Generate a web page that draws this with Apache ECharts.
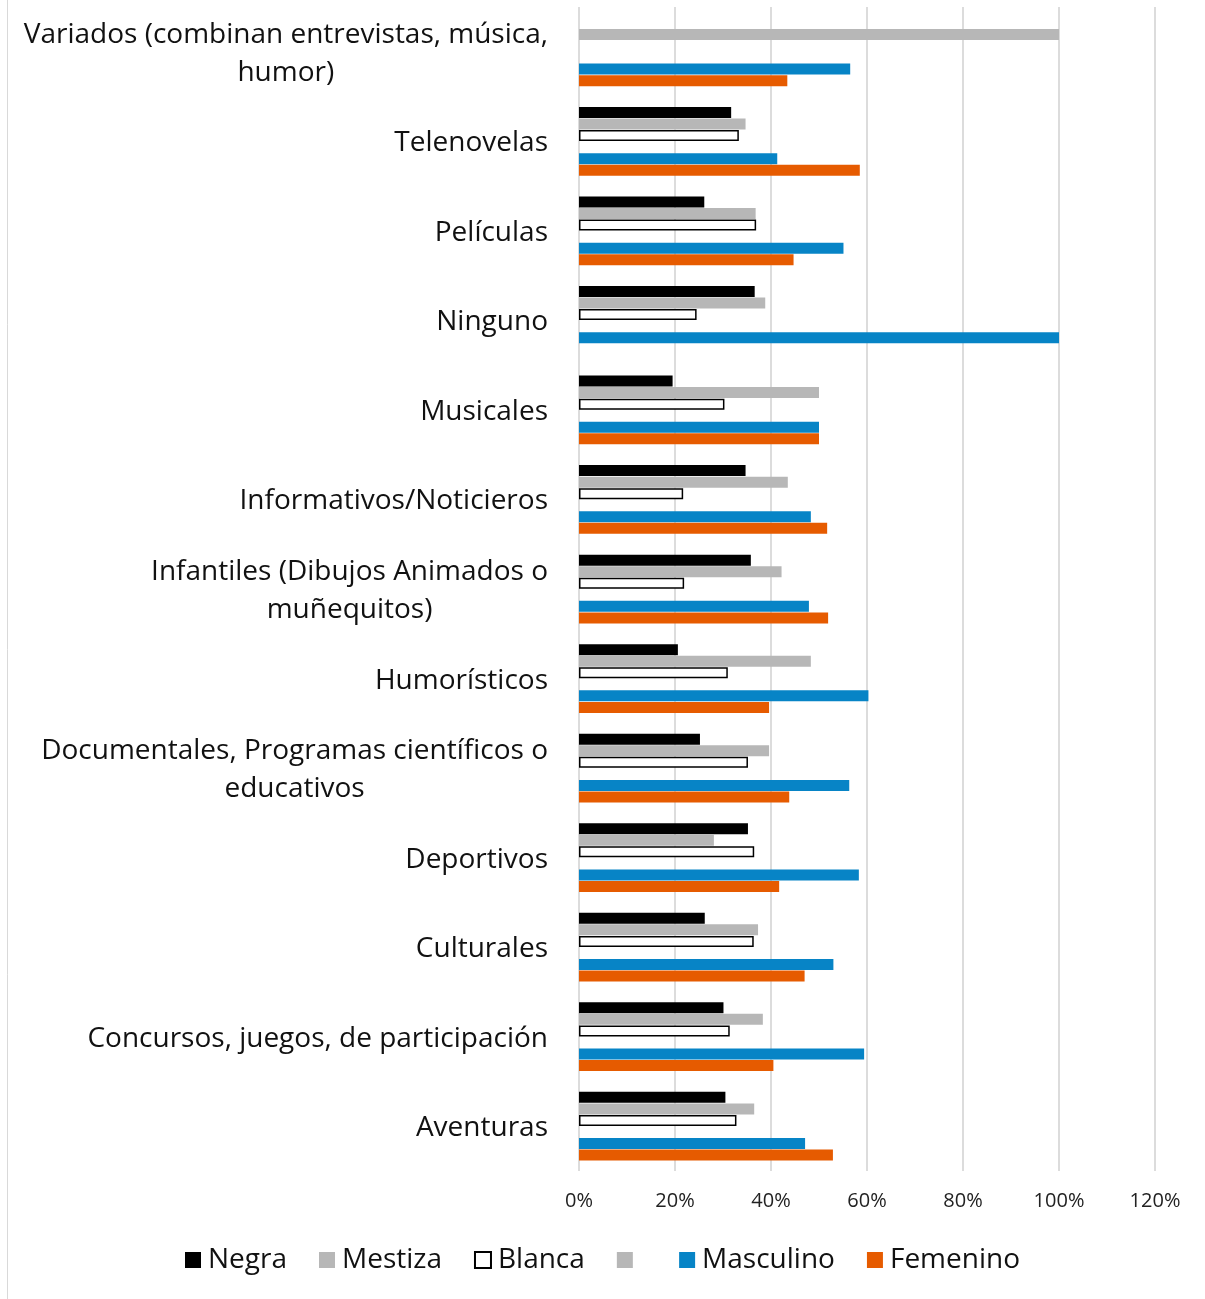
<!DOCTYPE html>
<html>
<head>
<meta charset="utf-8">
<script src="https://cdn.jsdelivr.net/npm/echarts@6/dist/echarts.min.js"></script>
<style>
  html, body { margin: 0; padding: 0; background: #fff; }
  #container { width: 1205px; height: 1299px; }
</style>
</head>
<body>
<div id="container"></div>
<script>
// categories, bottom to top (as the axis draws them)
var categories = [
  'Aventuras',
  'Concursos, juegos, de participación',
  'Culturales',
  'Deportivos',
  'Documentales, Programas científicos o\neducativos',
  'Humorísticos',
  'Infantiles (Dibujos Animados o\nmuñequitos)',
  'Informativos/Noticieros',
  'Musicales',
  'Ninguno',
  'Películas',
  'Telenovelas',
  'Variados (combinan entrevistas, música,\nhumor)'
];
// percent values, same order as categories
var negra     = [30.5, 30.1, 26.2, 35.2, 25.2, 20.6, 35.8, 34.7, 19.5, 36.6, 26.1, 31.7, null];
var mestiza   = [36.5, 38.3, 37.3, 28.1, 39.6, 48.3, 42.2, 43.5, 50.0, 38.8, 36.8, 34.7, 100];
var blanca    = [32.8, 31.4, 36.4, 36.5, 35.2, 31.0, 21.9, 21.7, 30.3, 24.5, 36.9, 33.3, null];
var sinNombre = [null, null, null, null, null, null, null, null, null, null, null, null, null];
var masculino = [47.1, 59.4, 53.0, 58.3, 56.3, 60.3, 47.9, 48.3, 50.0, 100, 55.1, 41.3, 56.5];
var femenino  = [52.9, 40.5, 47.0, 41.7, 43.8, 39.6, 51.9, 51.7, 50.0, null, 44.7, 58.5, 43.4];
var xTicks = [0, 20, 40, 60, 80, 100, 120];

var font = 'Open Sans';
var element = document.getElementById('container');
var myChart = echarts.init(element);

function bar(name, values, color, extra) {
  var s = {
    name: name,
    type: 'bar',
    data: values,
    barWidth: 11,
    barGap: '5%',
    itemStyle: { color: color },
    emphasis: { disabled: true },
    animation: false
  };
  if (extra) s.itemStyle = Object.assign(s.itemStyle, extra);
  return s;
}

var option = {
  backgroundColor: '#fff',
  animation: false,
  grid: { left: 579, right: 50, top: 7, bottom: 128, containLabel: false, outerBoundsMode: 'none' },
  xAxis: {
    type: 'value',
    min: xTicks[0],
    max: xTicks[xTicks.length - 1],
    interval: 20,
    axisLine: { show: false },
    axisTick: { show: false },
    splitLine: { lineStyle: { color: '#dcdcdc', width: 2 } },
    axisLabel: {
      formatter: '{value}%',
      fontFamily: font,
      fontSize: 20,
      color: '#222',
      margin: 20
    }
  },
  yAxis: {
    type: 'category',
    data: categories,
    axisLine: { show: false },
    axisTick: { show: false },
    splitLine: { show: false },
    axisLabel: {
      margin: 31,
      interval: 0,
      formatter: function (v) {
        return v.split('\n').map(function (s) { return '{c|' + s + '}'; }).join('\n');
      },
      rich: {
        c: { align: 'center', fontFamily: font, fontSize: 28, lineHeight: 38, color: '#111', padding: [4, 0, 0, 0] }
      }
    }
  },
  legend: {
    left: 'center',
    top: 1241,
    itemWidth: 16,
    itemHeight: 16,
    itemGap: 32,
    icon: 'rect',
    selectedMode: false,
    textStyle: { fontFamily: font, fontSize: 28, color: '#111', padding: [0, 0, 0, 2] }
  },
  graphic: [{
    type: 'line',
    shape: { x1: 7.5, y1: 0, x2: 7.5, y2: 1299 },
    style: { stroke: '#d9d9d9', lineWidth: 1 },
    silent: true
  }],
  series: [
    bar('Negra', negra, '#000000'),
    bar('Mestiza', mestiza, '#b7b7b7'),
    bar('Blanca', blanca, '#ffffff', { borderColor: '#000', borderWidth: 1.5 }),
    bar(' ', sinNombre, '#b7b7b7'),
    bar('Masculino', masculino, '#0784c6'),
    bar('Femenino', femenino, '#e65b00')
  ]
};
option && myChart.setOption(option);
</script>
</body>
</html>
